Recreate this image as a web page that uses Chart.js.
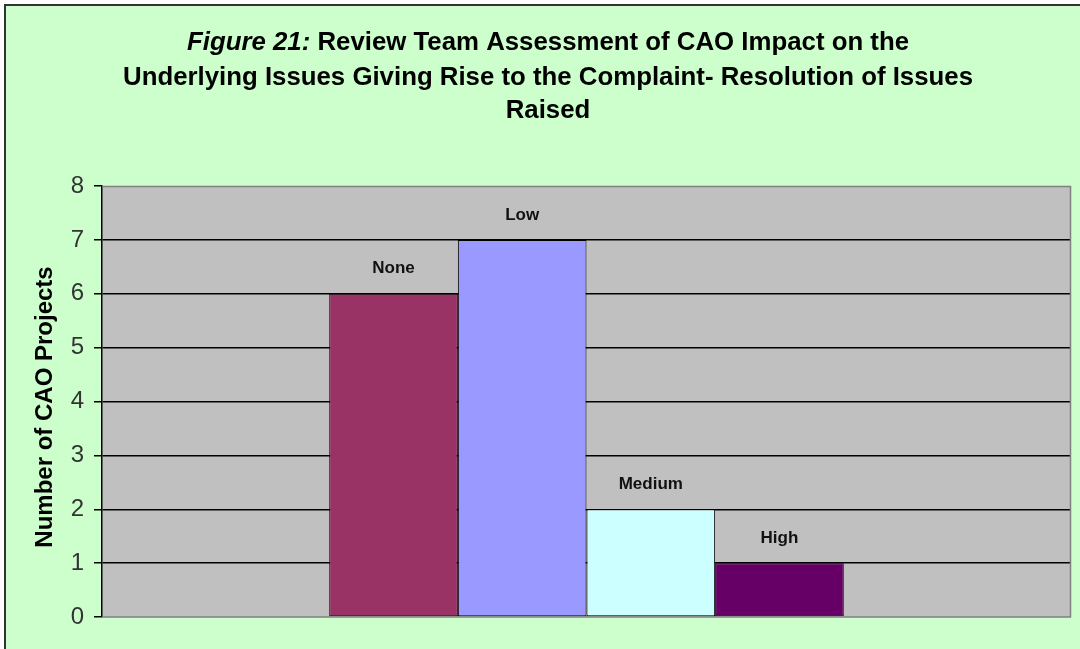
<!DOCTYPE html>
<html>
<head>
<meta charset="utf-8">
<script src="https://cdn.jsdelivr.net/npm/chart.js@4"></script>
<style>
  html, body { margin: 0; padding: 0; background: #fff; }
  #wrap { width: 1080px; height: 649px; }
</style>
</head>
<body>
<div id="wrap"><canvas id="impactChart" width="1080" height="649"></canvas></div>
<script>
const categories = [""];
const seriesNames = ["None", "Low", "Medium", "High"];
const seriesValues = [6, 7, 2, 1];
const seriesColors = ["#993366", "#9999ff", "#ccffff", "#660066"];
const yTicks = [0, 1, 2, 3, 4, 5, 6, 7, 8];
const titleLines = [
  ["Figure 21:", " Review Team Assessment of CAO Impact on the"],
  ["", "Underlying Issues Giving Rise to the Complaint- Resolution of Issues"],
  ["", "Raised"],
];
const yTitle = "Number of CAO Projects";

const FONT = "'Liberation Sans', Arial, sans-serif";

// green frame, gray plot area, title
const framePlugin = {
  id: "frame",
  beforeDraw(chart) {
    const { ctx, chartArea: a } = chart;
    ctx.save();
    ctx.fillStyle = "#fff";
    ctx.fillRect(0, 0, chart.width, chart.height);
    ctx.fillStyle = "#ccffcc";
    ctx.fillRect(5, 5, chart.width - 5, chart.height - 5);
    ctx.strokeStyle = "#333";
    ctx.lineWidth = 2;
    ctx.beginPath();
    ctx.moveTo(5, chart.height);
    ctx.lineTo(5, 5);
    ctx.lineTo(chart.width, 5);
    ctx.stroke();
    ctx.fillStyle = "#c0c0c0";
    ctx.fillRect(a.left, a.top, a.right - a.left, a.bottom - a.top);

    // title
    ctx.fillStyle = "#000";
    ctx.textBaseline = "middle";
    const cx = 548;
    const ys = [43, 78, 111];
    titleLines.forEach((parts, i) => {
      ctx.font = "italic bold 25.8px " + FONT;
      const w1 = ctx.measureText(parts[0]).width;
      ctx.font = "bold 25.8px " + FONT;
      const w2 = ctx.measureText(parts[1]).width;
      let x = cx - (w1 + w2) / 2;
      ctx.textAlign = "left";
      ctx.font = "italic bold 25.8px " + FONT;
      ctx.fillText(parts[0], x, ys[i]);
      ctx.font = "bold 25.8px " + FONT;
      ctx.fillText(parts[1], x + w1, ys[i]);
    });

    // y axis title
    ctx.translate(45, 407);
    ctx.rotate(-Math.PI / 2);
    ctx.textAlign = "center";
    ctx.font = "bold 24px " + FONT;
    ctx.fillText(yTitle, 0, 0);
    ctx.restore();
  },
  afterDatasetsDraw(chart) {
    const { ctx, chartArea: a } = chart;
    ctx.save();
    ctx.strokeStyle = "#808080";
    ctx.lineWidth = 1.5;
    ctx.beginPath();
    ctx.moveTo(a.left, a.top + 0.5);
    ctx.lineTo(a.right - 0.5, a.top + 0.5);
    ctx.lineTo(a.right - 0.5, a.bottom);
    ctx.lineTo(a.left, a.bottom);
    ctx.stroke();
    ctx.restore();
  },
};

// series name above each bar
const barLabels = {
  id: "barLabels",
  afterDatasetsDraw(chart) {
    const { ctx } = chart;
    ctx.save();
    ctx.font = "bold 17px " + FONT;
    ctx.fillStyle = "#111";
    ctx.textAlign = "center";
    ctx.textBaseline = "middle";
    chart.data.datasets.forEach((ds, i) => {
      chart.getDatasetMeta(i).data.forEach((bar) => {
        ctx.fillText(ds.label, bar.x, bar.y - 25);
      });
    });
    ctx.restore();
  },
};

const datasets = seriesNames.map((name, i) => ({
  label: name,
  data: [seriesValues[i]],
  backgroundColor: seriesColors[i],
  borderColor: "#000",
  borderWidth: 1,
  borderSkipped: false,
  barPercentage: 1.0,
  categoryPercentage: 0.531,
}));

new Chart(document.getElementById("impactChart"), {
  type: "bar",
  data: { labels: categories, datasets: datasets },
  options: {
    responsive: false,
    animation: false,
    layout: { padding: { left: 0, top: 186, right: 9, bottom: 32 } },
    plugins: {
      legend: { display: false },
      tooltip: { enabled: false },
      title: { display: false },
    },
    scales: {
      x: {
        display: false,
      },
      y: {
        min: 0,
        max: 8,
        afterBuildTicks: (scale) => {
          scale.ticks = yTicks.map((v) => ({ value: v }));
        },
        afterFit: (scale) => {
          scale.width = 102;
        },
        ticks: {
          font: { family: FONT, size: 24 },
          color: "#333",
          padding: 10,
        },
        grid: {
          color: (c) => (c.tick && (c.tick.value === 0 || c.tick.value === 8) ? "rgba(0,0,0,0)" : "#000"),
          tickColor: "#000",
          tickLength: 8,
          lineWidth: 1.5,
        },
        border: { color: "#000", width: 1.5 },
      },
    },
  },
  plugins: [framePlugin, barLabels],
});
</script>
</body>
</html>
